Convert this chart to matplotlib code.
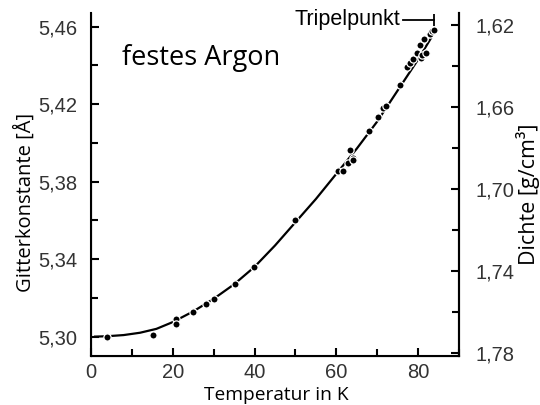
import matplotlib
matplotlib.use("Agg")
import matplotlib.pyplot as plt
from matplotlib.ticker import MultipleLocator

temp_pts = [4.0, 15.1, 20.9, 20.9, 25.0, 28.2, 30.1, 35.1, 39.9, 50.0, 60.4, 61.6,
            62.8, 63.4, 64.1, 64.1, 68.0, 70.2, 71.5, 72.1, 75.5, 77.2, 78.0, 78.7,
            79.8, 80.4, 80.6, 81.0, 81.5, 82.0, 82.8, 83.5, 83.9]
a_pts = [5.300, 5.301, 5.309, 5.3067, 5.3129, 5.3169, 5.3195, 5.327, 5.336, 5.360, 5.3853, 5.3852,
         5.3896, 5.3961, 5.3922, 5.3910, 5.4063, 5.4134, 5.418, 5.419, 5.430, 5.439, 5.441, 5.4433,
         5.4464, 5.4507, 5.4438, 5.4455, 5.4536, 5.4464, 5.4564, 5.4576, 5.458]

# fitted curve
temp_fit = [1, 4, 8, 12, 16, 20, 25, 30, 35, 40, 45, 50, 55, 60, 65, 70, 75, 80, 84]
a_fit = [5.300, 5.3002, 5.3008, 5.302, 5.304, 5.3075, 5.313, 5.3195, 5.327, 5.336, 5.347,
         5.359, 5.371, 5.384, 5.397, 5.411, 5.427, 5.443, 5.457]

x_ticks = [0, 20, 40, 60, 80]
left_ticks = [5.30, 5.34, 5.38, 5.42, 5.46]
left_labels = ["5,30", "5,34", "5,38", "5,42", "5,46"]
right_ticks = [1.62, 1.66, 1.70, 1.74, 1.78]
right_labels = ["1,62", "1,66", "1,70", "1,74", "1,78"]
triple_T = 83.9

label_font = "Open Sans"
tick_font = "Liberation Sans"
tick_col = "#333333"

fig = plt.figure(figsize=(5.4, 4.05), dpi=100)
ax = fig.add_axes([0.1685, 0.121, 0.6815, 0.847])

ax.plot(temp_fit, a_fit, color="black", lw=1.6, zorder=2)
ax.plot(temp_pts, a_pts, "o", ms=5.2, color="black", mec="white", mew=0.9, zorder=3)

ax.set_xlim(0, 90)
ax.set_ylim(5.290, 5.467)
ax.set_xticks(x_ticks)
ax.set_xticklabels([str(t) for t in x_ticks], fontfamily=tick_font, fontsize=14.5, color=tick_col)
ax.xaxis.set_minor_locator(MultipleLocator(10))
ax.set_yticks(left_ticks)
ax.set_yticklabels(left_labels, fontfamily=tick_font, fontsize=14.5, color=tick_col)
ax.yaxis.set_minor_locator(MultipleLocator(0.02))
ax.tick_params(which="both", direction="in", width=1.5, top=False, right=False)
ax.tick_params(which="major", length=6)
ax.tick_params(which="minor", length=5)
ax.tick_params(axis="x", pad=5)
ax.tick_params(axis="y", pad=10)
ax.spines["top"].set_visible(False)
for s in ["left", "bottom", "right"]:
    ax.spines[s].set_linewidth(1.5)

ax2 = ax.twinx()
ax2.set_ylim(1.7815, 1.614)
ax2.set_yticks(right_ticks)
ax2.set_yticklabels(right_labels, fontfamily=tick_font, fontsize=14.5, color=tick_col)
ax2.yaxis.set_minor_locator(MultipleLocator(0.02))
ax2.tick_params(which="both", direction="in", width=1.5, pad=12)
ax2.tick_params(which="major", length=6)
ax2.tick_params(which="minor", length=5)
ax2.spines["top"].set_visible(False)
ax2.spines["right"].set_linewidth(1.5)

# Tripelpunkt marker
ax.plot([76.3, triple_T], [5.4636, 5.4636], color="black", lw=1.3, clip_on=False)
ax.plot([triple_T], [5.4636], marker="|", ms=9, mew=1.3, color="black", clip_on=False)
ax.text(75.6, 5.4636, "Tripelpunkt", ha="right", va="center", fontfamily=tick_font,
        fontsize=15.5, color="black")

ax.text(0.085, 0.87, "festes Argon", transform=ax.transAxes, fontfamily=label_font,
        fontsize=19.5, color="black", va="center", ha="left")

fig.text(0.046, 0.50, "Gitterkonstante [Å]", rotation=90, ha="center", va="center",
         fontfamily=label_font, fontsize=14.5)
fig.text(0.978, 0.52, "Dichte [g/cm³]", rotation=90, ha="center", va="center",
         fontfamily=label_font, fontsize=15.5)
fig.text(0.511, 0.025, "Temperatur in K", ha="center", va="center",
         fontfamily=label_font, fontsize=13.8)

fig.savefig("out.png", dpi=100)
